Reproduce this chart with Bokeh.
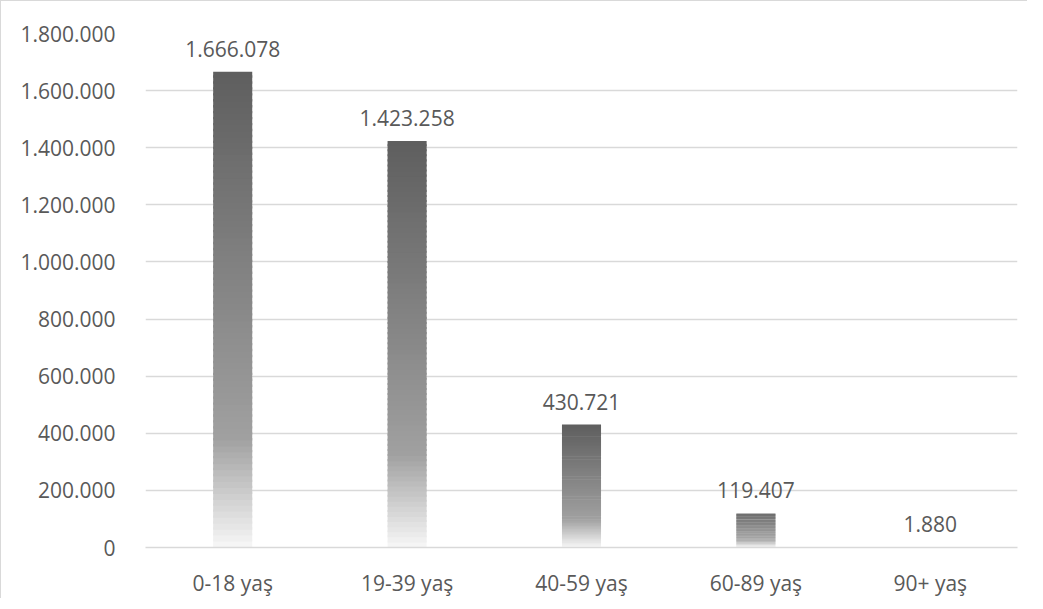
import numpy as np
from bokeh.plotting import figure
from bokeh.models import ColumnDataSource, FixedTicker, CustomJSTickFormatter
from bokeh.embed import file_html
from bokeh.resources import INLINE

categories = ["0-18 yaş", "19-39 yaş", "40-59 yaş", "60-89 yaş", "90+ yaş"]
values = [1666078, 1423258, 430721, 119407, 1880]
labels = ["1.666.078", "1.423.258", "430.721", "119.407", "1.880"]
y_ticks = [0, 200000, 400000, 600000, 800000, 1000000, 1200000, 1400000, 1600000, 1800000]

FONT = "Open Sans"
TXT = "#595959"
GRID = "#d9d9d9"

p = figure(x_range=categories, y_range=(0, 1800000), width=1027, height=598,
           output_backend="svg", toolbar_location=None,
           min_border_left=144, min_border_right=11, min_border_top=32, min_border_bottom=42)
p.styles = {"border-top": "1px solid #d9d9d9", "border-left": "1px solid #d9d9d9"}
p.outline_line_color = None
p.background_fill_color = "white"
p.border_fill_color = "white"

# gradient bars: stacked thin slices derived from each value
N = 80
def shade(t):
    # t = 0 at top of bar, 1 at bottom
    if t <= 0.77:
        g = 94 + (160 - 94) * t / 0.77
    else:
        g = 160 + (247 - 160) * (t - 0.77) / 0.23
    g = int(round(g))
    return "#%02x%02x%02x" % (g, g, g)

xs, bots, tops, cols = [], [], [], []
for c, v in zip(categories, values):
    for k in range(N):
        b = v * k / N
        t = min(v, v * (k + 1.4) / N)
        frac_from_top = 1 - (k + 0.5) / N
        xs.append(c)
        bots.append(b)
        tops.append(t)
        cols.append(shade(frac_from_top))

src = ColumnDataSource(dict(x=xs, bottom=bots, top=tops, color=cols))
p.vbar(x="x", bottom="bottom", top="top", width=0.224, source=src,
       fill_color="color", line_color=None)

lab = ColumnDataSource(dict(x=categories, y=values, text=labels))
p.text(x="x", y="y", text="text", source=lab, text_align="center",
       text_baseline="bottom", y_offset=-15, text_font_size="21px",
       text_color=TXT, text_font={"value": FONT})

p.yaxis.ticker = FixedTicker(ticks=y_ticks)
p.yaxis.formatter = CustomJSTickFormatter(code="""
    return tick.toFixed(0).replace(/\\B(?=(\\d{3})+(?!\\d))/g, '.');
""")
p.yaxis.axis_line_color = None
p.yaxis.major_tick_line_color = None
p.yaxis.minor_tick_line_color = None
p.yaxis.major_label_standoff = 24
p.yaxis.major_label_text_font = FONT
p.yaxis.major_label_text_font_size = "21px"
p.yaxis.major_label_text_color = TXT

p.xaxis.axis_line_color = GRID
p.xaxis.axis_line_width = 1.5
p.xaxis.major_tick_line_color = None
p.xaxis.minor_tick_line_color = None
p.xaxis.major_label_standoff = 15
p.xaxis.major_label_text_font = FONT
p.xaxis.major_label_text_font_size = "21px"
p.xaxis.major_label_text_color = TXT

p.xgrid.grid_line_color = None
p.ygrid.grid_line_color = GRID
p.ygrid.grid_line_width = 1.5
p.x_range.range_padding = 0

open("out.html", "w").write(file_html(p, INLINE))
